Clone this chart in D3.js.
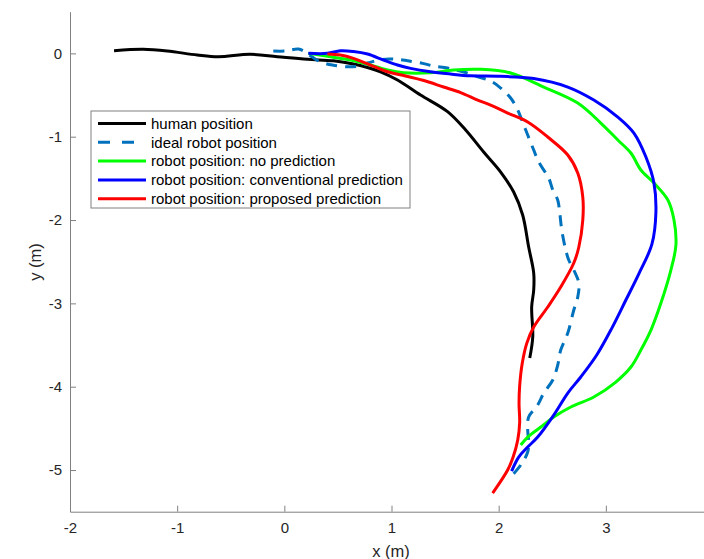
<!DOCTYPE html>
<html>
<head>
<meta charset="utf-8">
<script src="https://cdn.jsdelivr.net/npm/d3@7"></script>
<style>
  body { margin: 0; background: #fff; }
  svg { display: block; font-family: "Liberation Sans", Arial, Helvetica, sans-serif; }
  .axis path, .axis line { stroke: #808080; stroke-width: 1; }
  .axis text { fill: #262626; font-size: 15px; }
</style>
</head>
<body>
<svg id="viz" width="704" height="559"></svg>
<script>
// Trajectories, [x (m), y (m)]
const humanPath = [
  [-1.589, 0.031], [-1.318, 0.048], [-1.093, 0.028], [-0.813, -0.020], [-0.617, -0.041],
  [-0.318, -0.012], [-0.065, -0.041], [0.215, -0.072], [0.458, -0.089], [0.645, -0.128],
  [0.897, -0.221], [1.056, -0.320], [1.271, -0.500], [1.523, -0.700], [1.692, -0.920],
  [1.860, -1.184], [2.019, -1.424], [2.140, -1.664], [2.224, -1.940], [2.280, -2.324],
  [2.327, -2.636], [2.327, -2.840], [2.308, -3.044], [2.318, -3.404], [2.290, -3.656]
];
const idealPath = [
  [-0.103, 0.028], [0.009, 0.028], [0.131, 0.052], [0.196, 0.016], [0.262, -0.044],
  [0.336, -0.101], [0.449, -0.140], [0.589, -0.161], [0.692, -0.152], [0.785, -0.113],
  [0.916, -0.072], [1.056, -0.072], [1.150, -0.089], [1.290, -0.120], [1.393, -0.152],
  [1.523, -0.176], [1.673, -0.224], [1.813, -0.284], [1.925, -0.332], [2.019, -0.416],
  [2.112, -0.536], [2.178, -0.680], [2.234, -0.860], [2.271, -0.980], [2.327, -1.160],
  [2.374, -1.304], [2.467, -1.496], [2.505, -1.640], [2.551, -1.760], [2.570, -1.916],
  [2.589, -2.120], [2.626, -2.360], [2.654, -2.480], [2.701, -2.600], [2.748, -2.756],
  [2.738, -2.924], [2.701, -3.080], [2.645, -3.356], [2.579, -3.560], [2.551, -3.740],
  [2.505, -3.920], [2.421, -4.076], [2.364, -4.220], [2.280, -4.364], [2.271, -4.520],
  [2.280, -4.664], [2.271, -4.784], [2.206, -4.940], [2.121, -5.072]
];
const noPredPath = [
  [0.224, 0.000], [0.430, -0.041], [0.617, -0.080], [0.804, -0.140], [0.963, -0.200],
  [1.112, -0.233], [1.364, -0.233], [1.579, -0.200], [1.832, -0.192], [2.112, -0.236],
  [2.421, -0.404], [2.738, -0.596], [2.953, -0.836], [3.112, -1.040], [3.234, -1.196],
  [3.327, -1.400], [3.449, -1.556], [3.579, -1.760], [3.636, -2.000], [3.654, -2.300],
  [3.607, -2.600], [3.514, -2.996], [3.421, -3.320], [3.327, -3.560], [3.234, -3.764],
  [3.093, -3.944], [2.888, -4.124], [2.673, -4.244], [2.514, -4.364], [2.393, -4.484],
  [2.271, -4.604], [2.206, -4.700]
];
const convPredPath = [
  [0.224, 0.000], [0.402, 0.000], [0.523, 0.031], [0.645, 0.022], [0.776, -0.008],
  [0.925, -0.080], [1.056, -0.140], [1.178, -0.180], [1.364, -0.221], [1.551, -0.248],
  [1.738, -0.269], [2.019, -0.276], [2.327, -0.302], [2.645, -0.404], [2.888, -0.560],
  [3.112, -0.764], [3.262, -0.956], [3.374, -1.244], [3.449, -1.556], [3.467, -1.916],
  [3.430, -2.290], [3.310, -2.640], [3.187, -2.960], [3.055, -3.300], [2.915, -3.620],
  [2.766, -3.884], [2.645, -4.076], [2.514, -4.340], [2.364, -4.604], [2.271, -4.724],
  [2.187, -4.844], [2.121, -5.012]
];
const propPredPath = [
  [0.402, -0.008], [0.523, -0.020], [0.645, -0.060], [0.804, -0.140], [0.963, -0.221],
  [1.131, -0.272], [1.318, -0.332], [1.486, -0.404], [1.645, -0.470], [1.804, -0.560],
  [1.925, -0.620], [2.084, -0.716], [2.271, -0.824], [2.458, -1.004], [2.645, -1.220],
  [2.738, -1.436], [2.785, -1.724], [2.785, -2.000], [2.748, -2.324], [2.701, -2.516],
  [2.579, -2.804], [2.458, -3.044], [2.327, -3.284], [2.262, -3.480], [2.220, -3.720],
  [2.196, -3.990], [2.190, -4.200], [2.196, -4.430], [2.178, -4.640], [2.135, -4.844],
  [2.084, -5.000], [1.944, -5.276]
];

const seriesNames  = ['human position', 'ideal robot position', 'robot position: no prediction',
                      'robot position: conventional prediction', 'robot position: proposed prediction'];
const seriesPaths  = [humanPath, idealPath, noPredPath, convPredPath, propPredPath];
const seriesColors = ['#000000', '#0072BD', '#00FF00', '#0000FF', '#FF0000'];
const seriesDash   = [null, '11,8', null, null, null];

const xTicks = [-2, -1, 0, 1, 2, 3];
const yTicks = [-5, -4, -3, -2, -1, 0];

const svg = d3.select('#viz');

// Scales (x axis runs to 4, right part falls outside the window)
const x = d3.scaleLinear().domain([-2, 4]).range([70, 713]);
const y = d3.scaleLinear().domain([-5.5, 0.5]).range([511.7, 11.7]);

svg.append('defs').append('clipPath').attr('id', 'clip')
   .append('rect')
   .attr('x', 70).attr('y', 11.7)
   .attr('width', 643).attr('height', 500);

// Axes, MATLAB style ticks pointing inwards
svg.append('g')
   .attr('class', 'axis')
   .attr('transform', `translate(0,${y(-5.5)})`)
   .call(d3.axisBottom(x).tickValues(xTicks).tickFormat(d => String(d))
           .tickSizeInner(-6).tickSizeOuter(0).tickPadding(11));

svg.append('g')
   .attr('class', 'axis')
   .attr('transform', `translate(${x(-2)},0)`)
   .call(d3.axisLeft(y).tickValues(yTicks).tickFormat(d => String(d))
           .tickSizeInner(-6).tickSizeOuter(0).tickPadding(8));

// Axis labels
svg.append('text')
   .attr('x', 391).attr('y', 557)
   .attr('text-anchor', 'middle')
   .attr('fill', '#262626').attr('font-size', 16.5)
   .text('x (m)');

svg.append('text')
   .attr('transform', 'translate(41,262) rotate(-90)')
   .attr('text-anchor', 'middle')
   .attr('fill', '#262626').attr('font-size', 16.5)
   .text('y (m)');

// Trajectories
const line = d3.line()
  .x(d => x(d[0]))
  .y(d => y(d[1]))
  .curve(d3.curveCatmullRom.alpha(0.5));

const plot = svg.append('g').attr('clip-path', 'url(#clip)');

seriesPaths.forEach((pts, i) => {
  plot.append('path')
      .datum(pts)
      .attr('fill', 'none')
      .attr('stroke', seriesColors[i])
      .attr('stroke-width', 3)
      .attr('stroke-linejoin', 'round')
      .attr('stroke-dasharray', seriesDash[i])
      .attr('d', line);
});

// Legend
const legend = svg.append('g').attr('transform', 'translate(91,111)');

legend.append('rect')
      .attr('width', 319).attr('height', 97)
      .attr('fill', '#fff')
      .attr('stroke', '#808080').attr('stroke-width', 1);

seriesNames.forEach((name, i) => {
  const cy = 12.5 + i * 18.8;
  legend.append('line')
        .attr('x1', 7).attr('x2', 55)
        .attr('y1', cy).attr('y2', cy)
        .attr('stroke', seriesColors[i])
        .attr('stroke-width', 3)
        .attr('stroke-dasharray', seriesDash[i] ? '12,12,12,100' : null);
  legend.append('text')
        .attr('x', 60).attr('y', cy)
        .attr('dy', '0.35em')
        .attr('fill', '#000')
        .attr('font-size', 15)
        .text(name);
});
</script>
</body>
</html>
